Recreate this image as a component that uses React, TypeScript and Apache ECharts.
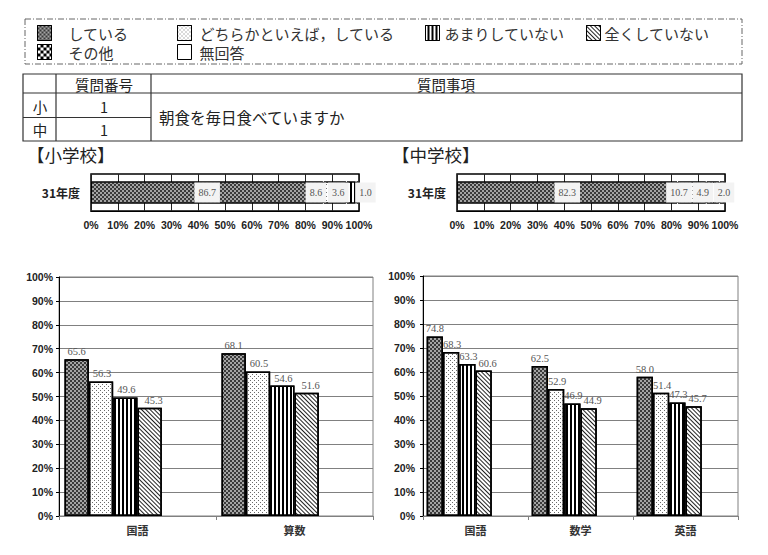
import React, { useEffect, useRef } from 'react';
import * as echarts from 'echarts';

const groups = ['している', 'どちらかといえば，している', 'あまりしていない', '全くしていない', 'その他', '無回答'];
const yearCats = ['31年度'];
const shoTop = [86.7, 8.6, 3.6, 1.0];
const chuTop = [82.3, 10.7, 4.9, 2.0];
const shoSubjects = ['国語', '算数'];
const chuSubjects = ['国語', '数学', '英語'];
const shoScores = [
  [65.6, 68.1],
  [56.3, 60.5],
  [49.6, 54.6],
  [45.3, 51.6],
];
const chuScores = [
  [74.8, 62.5, 58.0],
  [68.3, 52.9, 51.4],
  [63.3, 46.9, 47.3],
  [60.6, 44.9, 45.7],
];
const questionNo = ['1', '1'];
const questionText = '朝食を毎日食べていますか';

const JP = '"Noto Sans CJK JP", "Noto Sans", sans-serif';
const NUM = '"Liberation Sans Narrow", "Liberation Sans", Arial, sans-serif';
const SERIF = '"Liberation Serif", "DejaVu Serif", serif';

const groupStyles: any[] = [
  { color: '#a4a4a4', decal: { color: '#3a3a3a', symbol: 'rect', symbolKeepAspect: false, dashArrayX: [[2, 2], [0, 2, 2, 0]], dashArrayY: [2, 0] } },
  { color: '#ffffff', decal: { color: '#6a6a6a', symbol: 'rect', symbolKeepAspect: false, dashArrayX: [[1, 3], [0, 2, 1, 1]], dashArrayY: [1, 1] } },
  { color: '#ffffff', decal: { color: '#000000', symbol: 'rect', symbolKeepAspect: false, dashArrayX: [1, 0], dashArrayY: [2, 2], rotation: Math.PI / 2 } },
  { color: '#ffffff', decal: { color: '#222222', symbol: 'rect', symbolKeepAspect: false, dashArrayX: [1, 0], dashArrayY: [1, 2], rotation: Math.PI / 4 } },
  { color: '#ffffff', decal: { color: '#000000', symbol: 'rect', symbolKeepAspect: false, dashArrayX: [[3, 3], [0, 3, 3, 0]], dashArrayY: [3, 0] } },
  { color: '#ffffff' },
];

const legendPos = [
  [37, 25], [177, 25], [425, 25], [586, 25], [37, 44], [177, 44],
];
const legendTextGap = [12, 3, 0, -1, 12, 3];

const shoTopOffsets = [0, -19, -13, 8];
const chuTopOffsets = [0, -13, -10, 2];
const bottomLabelOffsets = [0, 1, 1, 4, 0, 0];

function fmt(p: any) {
  return p.value == null ? '' : Number(p.value).toFixed(1);
}

export default function App() {
  const ref = useRef<HTMLDivElement>(null);
  useEffect(() => {
    if (!ref.current) return;
    const chart = echarts.init(ref.current, null, { renderer: 'svg' });

    const topGrids = [
      { left: 91, top: 174, width: 268, height: 37 },
      { left: 457, top: 174, width: 268, height: 37 },
    ];
    const botGrids = [
      { left: 59, top: 277, width: 314, height: 239 },
      { left: 423, top: 276, width: 315, height: 240 },
    ];

    const grid: any[] = [
      ...topGrids.map((g) => ({ ...g, show: true, borderColor: '#000', borderWidth: 1.5, backgroundColor: 'transparent' })),
      ...botGrids.map((g) => ({ ...g, show: true, borderColor: '#808080', borderWidth: 1, backgroundColor: 'transparent' })),
    ];

    const xAxis: any[] = [
      ...[0, 1].map((i) => ({
        type: 'value', gridIndex: i, min: 0, max: 100, interval: 10,
        axisLine: { show: true, lineStyle: { color: '#000' } },
        axisTick: { show: false },
        splitLine: { show: true, lineStyle: { color: '#222', width: 1 } },
        axisLabel: { formatter: '{value}%', fontFamily: NUM, fontSize: 10.5, fontWeight: 'bold', color: '#222', margin: 8 },
      })),
      {
        type: 'category', gridIndex: 2, data: shoSubjects,
        axisLine: { lineStyle: { color: '#808080' } },
        axisTick: { show: true, length: 4, lineStyle: { color: '#808080' } },
        axisLabel: { fontFamily: JP, fontSize: 11, fontWeight: 'bold', color: '#333', margin: 8 },
      },
      {
        type: 'category', gridIndex: 3, data: chuSubjects,
        axisLine: { lineStyle: { color: '#808080' } },
        axisTick: { show: true, length: 4, lineStyle: { color: '#808080' } },
        axisLabel: { fontFamily: JP, fontSize: 11, fontWeight: 'bold', color: '#333', margin: 8 },
      },
    ];

    const yAxis: any[] = [
      ...[0, 1].map((i) => ({
        type: 'category', gridIndex: i, data: yearCats,
        axisLine: { show: false }, axisTick: { show: false },
        axisLabel: { fontFamily: JP, fontSize: 12, fontWeight: 'bold', color: '#222', margin: 11 },
      })),
      ...[2, 3].map((i) => ({
        type: 'value', gridIndex: i, min: 0, max: 100, interval: 10,
        axisLine: { show: true, lineStyle: { color: '#000' } },
        axisTick: { show: true, length: 3, lineStyle: { color: '#000' } },
        splitLine: { show: true, lineStyle: { color: '#808080', width: 1 } },
        axisLabel: { formatter: '{value}%', fontFamily: NUM, fontSize: 10.5, fontWeight: 'bold', color: '#222', margin: i === 2 ? 6 : 8 },
      })),
    ];

    const series: any[] = [];
    const addTop = (vals: number[], idx: number, offsets: number[], stack: string) => {
      vals.forEach((v, i) => {
        series.push({
          type: 'bar', name: groups[i], stack, xAxisIndex: idx, yAxisIndex: idx,
          data: [v], barWidth: 22,
          itemStyle: { ...groupStyles[i], borderColor: '#000', borderWidth: 1 },
          label: {
            show: true, position: 'inside', offset: [offsets[i], 0], formatter: fmt,
            fontFamily: SERIF, fontSize: 10, color: '#555', backgroundColor: '#f3f3f3', padding: [5, 4],
          },
        });
      });
    };
    addTop(shoTop, 0, shoTopOffsets, 'sho');
    addTop(chuTop, 1, chuTopOffsets, 'chu');

    const addBottom = (scores: number[][], cats: string[], idx: number) => {
      groups.forEach((g, i) => {
        series.push({
          type: 'bar', name: g, xAxisIndex: idx, yAxisIndex: idx,
          data: scores[i] ? scores[i] : cats.map(() => null),
          barGap: '0%', barCategoryGap: '7%',
          itemStyle: { ...groupStyles[i], borderColor: '#000', borderWidth: 1.5 },
          label: {
            show: true, position: 'top', distance: 2, offset: [bottomLabelOffsets[i], 0],
            formatter: fmt, fontFamily: SERIF, fontSize: 10.5, color: '#555',
          },
        });
      });
    };
    addBottom(shoScores, shoSubjects, 2);
    addBottom(chuScores, chuSubjects, 3);

    const legend = groups.map((g, i) => ({
      data: [g], left: legendPos[i][0], top: legendPos[i][1], padding: 0,
      itemWidth: 14, itemHeight: 15, icon: 'rect', selectedMode: false,
      itemStyle: { borderColor: '#000', borderWidth: 1 },
      textStyle: { fontFamily: JP, fontSize: 15, color: '#333', padding: [0, 0, 0, legendTextGap[i]] },
    }));

    const lineStyle = { stroke: '#333', lineWidth: 1.2 };
    const txt = (x: number, y: number, text: string, size: number, align = 'center') => ({
      type: 'text', x, y,
      style: { text, fontFamily: JP, fontSize: size, fill: '#222', align, verticalAlign: 'middle' },
    });

    const graphic: any[] = [
      { type: 'rect', shape: { x: 25, y: 19, width: 717, height: 45 }, style: { fill: 'none', stroke: '#666', lineWidth: 1, lineDash: [6, 2, 1, 2] } },
      { type: 'rect', shape: { x: 23, y: 74, width: 719, height: 67 }, style: { fill: 'none', ...lineStyle } },
      { type: 'line', shape: { x1: 23, y1: 93, x2: 742, y2: 93 }, style: lineStyle },
      { type: 'line', shape: { x1: 23, y1: 117.5, x2: 151, y2: 117.5 }, style: lineStyle },
      { type: 'line', shape: { x1: 56, y1: 74, x2: 56, y2: 141 }, style: lineStyle },
      { type: 'line', shape: { x1: 151, y1: 74, x2: 151, y2: 141 }, style: lineStyle },
      txt(104, 84, '質問番号', 14.5),
      txt(446, 84, '質問事項', 14.5),
      txt(40, 106, '小', 14.5),
      txt(104, 106, questionNo[0], 14.5),
      txt(40, 129, '中', 14.5),
      txt(104, 129, questionNo[1], 14.5),
      txt(159, 117, questionText, 15.5, 'left'),
      txt(27, 154, '【小学校】', 17.5, 'left'),
      txt(392, 154, '【中学校】', 17.5, 'left'),
    ];

    chart.setOption({
      animation: false,
      backgroundColor: '#fff',
      grid, xAxis, yAxis, series, legend, graphic,
    });
    return () => chart.dispose();
  }, []);
  return <div ref={ref} style={{ position: 'absolute', left: 0, top: 0, width: 768, height: 555 }} />;
}
